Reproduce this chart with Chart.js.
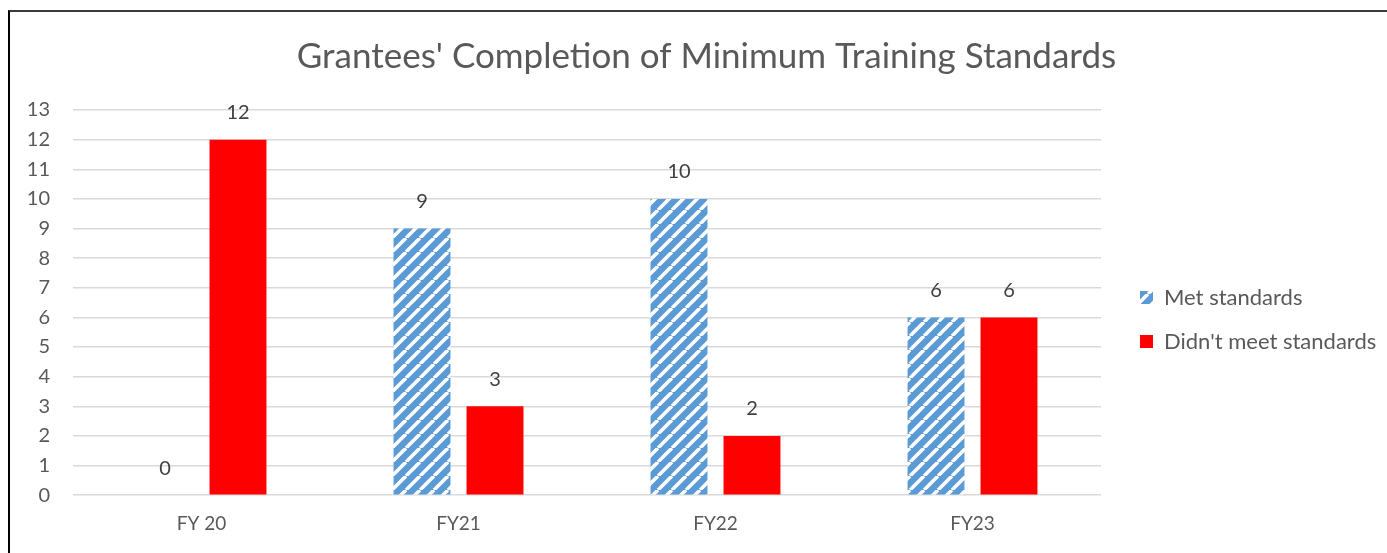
<!DOCTYPE html>
<html>
<head>
<meta charset="utf-8">
<script src="https://cdn.jsdelivr.net/npm/chart.js@4"></script>
<style>
  html, body { margin: 0; padding: 0; background: #fff; }
  #frame {
    position: absolute; left: 8px; top: 10px; width: 1500px; height: 700px;
    border-top: 2px solid #3a3a3a; border-left: 2px solid #000;
  }
  #wrap { position: absolute; left: 0; top: 0; width: 1387px; height: 553px; }
</style>
</head>
<body>
<div id="frame"></div>
<div id="wrap"><canvas id="chart"></canvas></div>
<script>
const categories = ['FY 20', 'FY21', 'FY22', 'FY23'];
const metStandards = [0, 9, 10, 6];
const didntMeet = [12, 3, 2, 6];
const seriesNames = ['Met standards', "Didn't meet standards"];
const yTicks = [0, 1, 2, 3, 4, 5, 6, 7, 8, 9, 10, 11, 12, 13];

const FONT = 'Lato, "Open Sans", sans-serif';

// diagonal blue/white hatch like Excel's wide upward diagonal
function makeHatch() {
    const s = 14;
    const c = document.createElement('canvas');
    c.width = s; c.height = s;
    const g = c.getContext('2d');
    g.fillStyle = '#5b9bd5';
    g.fillRect(0, 0, s, s);
    g.strokeStyle = '#ffffff';
    g.lineWidth = 3.6;
    for (let k = -1; k <= 1; k++) {
        g.beginPath();
        g.moveTo(k * s, s);
        g.lineTo(k * s + s, 0);
        g.stroke();
    }
    return g.createPattern(c, 'repeat');
}

const valueLabels = {
    id: 'valueLabels',
    afterDatasetsDraw(chart) {
        const ctx = chart.ctx;
        ctx.save();
        ctx.font = '20px ' + FONT;
        ctx.fillStyle = '#404040';
        ctx.textAlign = 'center';
        ctx.textBaseline = 'middle';
        chart.data.datasets.forEach((ds, i) => {
            chart.getDatasetMeta(i).data.forEach((bar, j) => {
                ctx.fillText(String(ds.data[j]), bar.x, bar.y - 27);
            });
        });
        ctx.restore();
    }
};

// legend: fixed width so the plot ends at x=1101, items nudged right/down
const legendPlace = {
    id: 'legendPlace',
    beforeInit(chart) {
        const fit = chart.legend.fit;
        chart.legend.fit = function () {
            fit.call(this);
            this.width = 286;
        };
    },
    afterLayout(chart) {
        chart.legend.left += 17;
        chart.legend.top += 17;
        chart.legend.bottom += 17;
        chart.titleBlock.left += 13;
        chart.titleBlock.right += 13;
    }
};

const hatch = makeHatch();

new Chart(document.getElementById('chart'), {
    type: 'bar',
    data: {
        labels: categories,
        datasets: [
            { label: seriesNames[0], data: metStandards, backgroundColor: hatch, borderWidth: 0 },
            { label: seriesNames[1], data: didntMeet, backgroundColor: '#ff0000', borderWidth: 0 }
        ]
    },
    options: {
        responsive: true,
        maintainAspectRatio: false,
        animation: false,
        categoryPercentage: 0.568,
        barPercentage: 0.78,
        layout: { padding: { left: 0, right: 0, top: 18, bottom: 1 } },
        plugins: {
            tooltip: { enabled: false },
            title: {
                display: true,
                text: "Grantees' Completion of Minimum Training Standards",
                color: '#595959',
                font: { family: FONT, size: 35, weight: 'normal' },
                padding: { top: 18, bottom: 32 }
            },
            legend: {
                position: 'right',
                fullSize: false,
                labels: {
                    color: '#595959',
                    font: { family: FONT, size: 22 },
                    boxWidth: 13,
                    boxHeight: 13,
                    padding: 22
                }
            }
        },
        scales: {
            x: {
                grid: { display: false, drawTicks: false },
                border: { display: false },
                ticks: { color: '#595959', font: { family: FONT, size: 19 }, padding: 17 }
            },
            y: {
                min: 0,
                max: 13,
                afterBuildTicks(scale) {
                    scale.ticks = yTicks.map(v => ({ value: v }));
                },
                afterFit(scale) { scale.width = 73; },
                grid: { color: '#d9d9d9', lineWidth: 1.5, drawTicks: false },
                border: { display: false },
                ticks: { color: '#595959', font: { family: FONT, size: 20 }, padding: 23 }
            }
        }
    },
    plugins: [valueLabels, legendPlace]
});
</script>
</body>
</html>
